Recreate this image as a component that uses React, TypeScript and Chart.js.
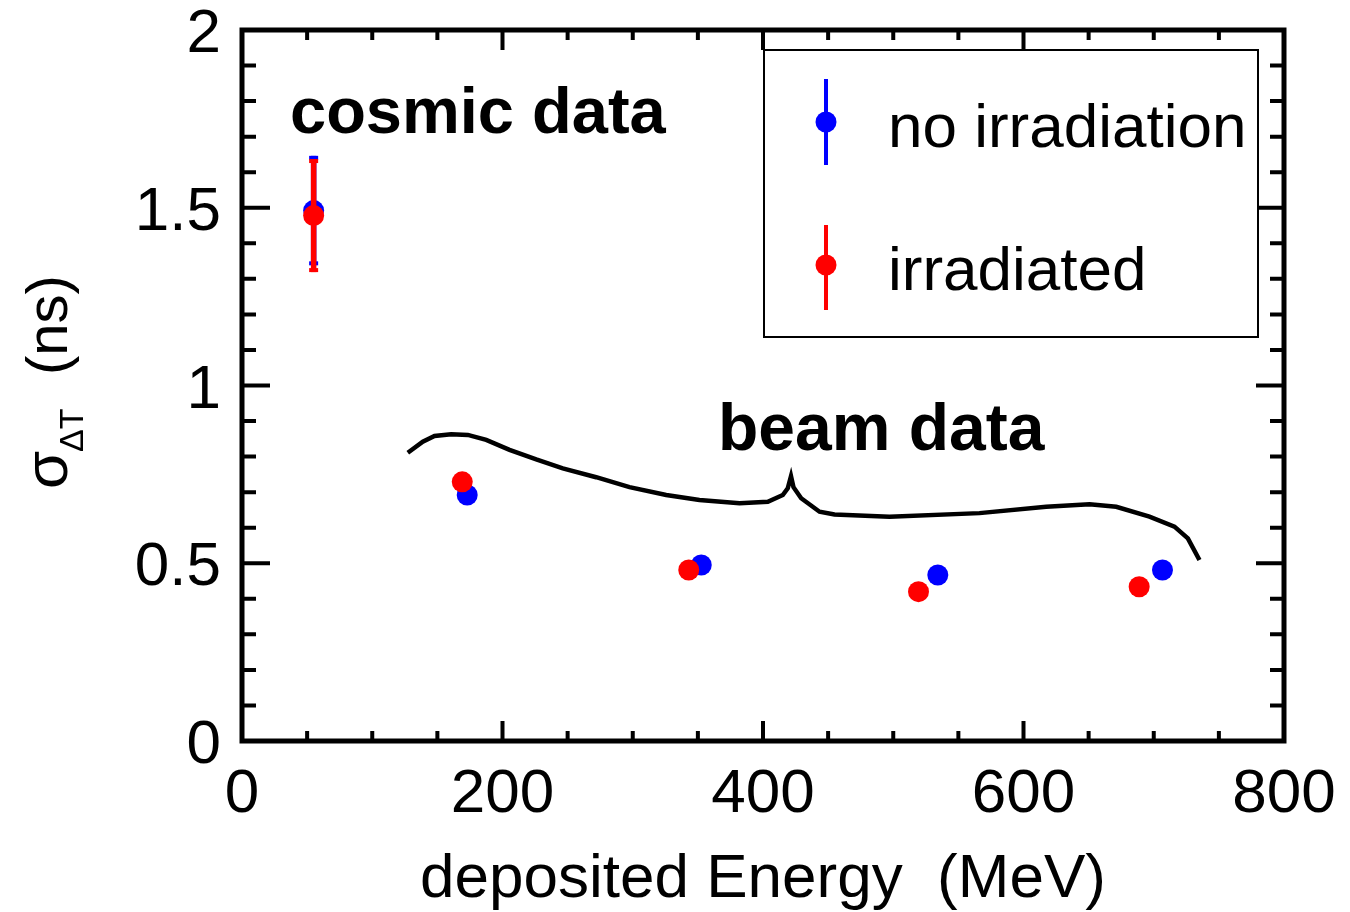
import React, { useEffect, useRef } from "react";
import { Chart, registerables } from "chart.js";

Chart.register(...registerables);

// ---- axis ticks ----
const xTickValues = [0, 200, 400, 600, 800];
const xTickLabels = ["0", "200", "400", "600", "800"];
const yTickValues = [0, 0.5, 1, 1.5, 2];
const yTickLabels = ["0", "0.5", "1", "1.5", "2"];
const xMinorStep = 50;
const yMinorStep = 0.1;

// ---- data ----
const noIrrX = [55, 172.9, 352.6, 534.2, 706.7];
const noIrrY = [1.492, 0.692, 0.495, 0.467, 0.481];
const noIrrErr = [0.154, 0, 0, 0, 0];

const irrX = [55, 169.1, 343.0, 519.4, 688.8];
const irrY = [1.478, 0.729, 0.481, 0.42, 0.434];
const irrErr = [0.159, 0, 0, 0, 0];

// brace drawn over the beam data
const braceX = [127.3, 138.8, 147.8, 160.6, 173.4, 187.5, 205.4, 225.9, 246.3, 271.9, 297.5, 325.7, 351.2, 382.0, 403.7, 415.2, 419.0, 421.5, 423.4, 429.3, 443.4, 454.9, 497.1, 566.2, 617.4, 650.7, 671.2, 696.7, 715.9, 726.2, 735.1];
const braceY = [0.811, 0.842, 0.858, 0.863, 0.861, 0.847, 0.819, 0.792, 0.767, 0.742, 0.714, 0.692, 0.678, 0.669, 0.673, 0.692, 0.711, 0.745, 0.714, 0.683, 0.645, 0.637, 0.631, 0.641, 0.659, 0.666, 0.659, 0.631, 0.603, 0.57, 0.509];

const seriesLabels = ["no irradiation", "irradiated"];
const seriesColors = ["#0000ff", "#ff0000"];

const FONT = '"Liberation Sans", Arial, Helvetica, sans-serif';

const errorMap: Record<string, number[]> = {
  "no irradiation": noIrrErr,
  irradiated: irrErr,
};

const decorPlugin = {
  id: "decor",
  beforeDatasetDraw(chart: any, args: any) {
    const ds = chart.data.datasets[args.index];
    const errs = errorMap[ds.label];
    if (!errs) return;
    const ctx = chart.ctx;
    const xs = chart.scales.x;
    const ys = chart.scales.y;
    ctx.save();
    ctx.strokeStyle = ds.backgroundColor;
    ctx.fillStyle = ds.backgroundColor;
    ctx.lineWidth = 5.5;
    ds.data.forEach((p: any, i: number) => {
      const e = errs[i];
      if (!e) return;
      const px = xs.getPixelForValue(p.x);
      const top = ys.getPixelForValue(p.y + e);
      const bot = ys.getPixelForValue(p.y - e);
      ctx.beginPath();
      ctx.moveTo(px, top);
      ctx.lineTo(px, bot);
      ctx.stroke();
      ctx.fillRect(px - 4.5, top, 9, 4);
      ctx.fillRect(px - 4.5, bot - 4, 9, 4);
    });
    ctx.restore();
  },
  afterDraw(chart: any) {
    const ctx = chart.ctx;
    const xs = chart.scales.x;
    const ys = chart.scales.y;
    const { left, right, top, bottom } = chart.chartArea;
    ctx.save();
    ctx.strokeStyle = "#000";
    ctx.fillStyle = "#000";

    // frame
    ctx.lineWidth = 5;
    ctx.strokeRect(left, top, right - left, bottom - top);

    // ticks
    ctx.lineWidth = 4;
    ctx.beginPath();
    for (let v = xs.min; v <= xs.max + 1e-6; v += xMinorStep) {
      const major = xTickValues.some((t) => Math.abs(t - v) < 1e-6);
      const len = major ? 20 : 10;
      const px = xs.getPixelForValue(v);
      ctx.moveTo(px, bottom);
      ctx.lineTo(px, bottom - len);
      ctx.moveTo(px, top);
      ctx.lineTo(px, top + len);
    }
    for (let k = 0; k <= Math.round((ys.max - ys.min) / yMinorStep); k++) {
      const v = ys.min + k * yMinorStep;
      const major = yTickValues.some((t) => Math.abs(t - v) < 1e-6);
      const len = major ? 28 : 14;
      const py = ys.getPixelForValue(v);
      ctx.moveTo(left, py);
      ctx.lineTo(left + len, py);
      ctx.moveTo(right, py);
      ctx.lineTo(right - len, py);
    }
    ctx.stroke();

    // tick labels
    ctx.font = `62px ${FONT}`;
    ctx.textBaseline = "alphabetic";
    ctx.textAlign = "center";
    xTickValues.forEach((v, i) => {
      ctx.fillText(xTickLabels[i], xs.getPixelForValue(v), 812);
    });
    ctx.textAlign = "right";
    yTickValues.forEach((v, i) => {
      ctx.fillText(yTickLabels[i], 221, ys.getPixelForValue(v) + 22);
    });

    // x title
    ctx.textAlign = "center";
    ctx.fillText("deposited Energy  (MeV)", (left + right) / 2, 897);

    // y title (rotated)
    ctx.save();
    ctx.rotate(-Math.PI / 2);
    ctx.textAlign = "left";
    ctx.font = `62px ${FONT}`;
    ctx.fillText("σ", -489, 67);
    ctx.font = `34px ${FONT}`;
    ctx.fillText("ΔT", -452, 83);
    ctx.font = `58px ${FONT}`;
    ctx.fillText("(ns)", -375, 67);
    ctx.restore();

    // annotations
    ctx.textAlign = "left";
    ctx.font = `bold 65px ${FONT}`;
    ctx.fillText("cosmic data", 290, 133);
    ctx.font = `bold 66px ${FONT}`;
    ctx.fillText("beam data", 718, 450);

    // legend
    ctx.fillStyle = "#fff";
    ctx.fillRect(764, 50, 494, 287);
    ctx.lineWidth = 2;
    ctx.strokeStyle = "#000";
    ctx.strokeRect(764, 50, 494, 287);
    const legendRows = [
      { y: 122, barTop: 79, barBot: 165, base: 147 },
      { y: 265, barTop: 225, barBot: 310, base: 290 },
    ];
    legendRows.forEach((r, i) => {
      ctx.strokeStyle = seriesColors[i];
      ctx.fillStyle = seriesColors[i];
      ctx.lineWidth = 4;
      ctx.beginPath();
      ctx.moveTo(826, r.barTop);
      ctx.lineTo(826, r.barBot);
      ctx.stroke();
      ctx.beginPath();
      ctx.arc(826, r.y, 10.5, 0, Math.PI * 2);
      ctx.fill();
      ctx.fillStyle = "#000";
      ctx.font = `62px ${FONT}`;
      ctx.textAlign = "left";
      ctx.fillText(seriesLabels[i], 888, r.base);
    });

    ctx.restore();
  },
};

export default function App() {
  const canvasRef = useRef<HTMLCanvasElement | null>(null);

  useEffect(() => {
    if (!canvasRef.current) return;
    const chart = new Chart(canvasRef.current, {
      type: "scatter",
      data: {
        datasets: [
          {
            label: "brace",
            type: "line",
            data: braceX.map((x, i) => ({ x, y: braceY[i] })),
            borderColor: "#000",
            borderWidth: 4.5,
            pointRadius: 0,
            tension: 0,
            fill: false,
            order: 3,
          } as any,
          {
            label: seriesLabels[0],
            data: noIrrX.map((x, i) => ({ x, y: noIrrY[i] })),
            backgroundColor: seriesColors[0],
            borderColor: seriesColors[0],
            pointRadius: 10.5,
            pointBorderWidth: 0,
            order: 2,
          },
          {
            label: seriesLabels[1],
            data: irrX.map((x, i) => ({ x, y: irrY[i] })),
            backgroundColor: seriesColors[1],
            borderColor: seriesColors[1],
            pointRadius: 10.5,
            pointBorderWidth: 0,
            order: 1,
          },
        ],
      },
      options: {
        responsive: false,
        animation: false,
        devicePixelRatio: 1,
        layout: { padding: { left: 242, right: 66, top: 30, bottom: 171 } },
        plugins: {
          legend: { display: false },
          tooltip: { enabled: false },
        },
        scales: {
          x: { type: "linear", min: 0, max: 800, display: false },
          y: { type: "linear", min: 0, max: 2, display: false },
        },
      },
      plugins: [decorPlugin],
    });
    return () => chart.destroy();
  }, []);

  return (
    <div style={{ position: "absolute", left: 0, top: 0, width: 1350, height: 912, background: "#fff" }}>
      <canvas ref={canvasRef} width={1350} height={912} />
    </div>
  );
}
